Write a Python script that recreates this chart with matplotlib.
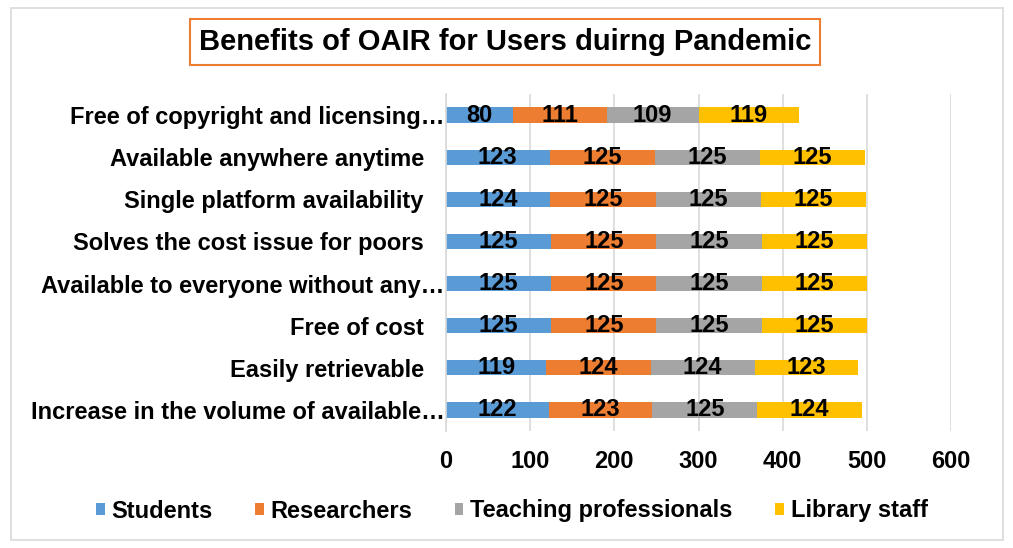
import numpy as np
import matplotlib.pyplot as plt
from matplotlib.patches import Rectangle
from matplotlib.transforms import ScaledTranslation
from matplotlib import font_manager

plt.rcParams['font.family'] = ['Liberation Sans', 'DejaVu Sans']
plt.rcParams['font.weight'] = 'bold'

# Données (de bas en haut)
categories = [
    "Increase in the volume of available…",
    "Easily retrievable",
    "Free of cost",
    "Available to everyone without any…",
    "Solves the cost issue for poors",
    "Single platform availability",
    "Available anywhere anytime",
    "Free of copyright and licensing…",
]
students = [122, 119, 125, 125, 125, 124, 123, 80]
researchers = [123, 124, 125, 125, 125, 125, 125, 111]
teaching = [125, 124, 125, 125, 125, 125, 125, 109]
library = [124, 123, 125, 125, 125, 125, 125, 119]

series = [
    ("Students", students, "#5B9BD5"),
    ("Researchers", researchers, "#ED7D31"),
    ("Teaching professionals", teaching, "#A5A5A5"),
    ("Library staff", library, "#FFC000"),
]

# police étroite pour le titre si disponible
installed = {f.name for f in font_manager.fontManager.ttflist}
if "Liberation Sans Narrow" in installed:
    title_font, title_size = "Liberation Sans Narrow", 26
else:
    title_font, title_size = "Liberation Sans", 21

fig = plt.figure(figsize=(10.13, 5.48), dpi=100)
ax = fig.add_axes([446 / 1013, 1 - 431 / 548, (951 - 446) / 1013, (431 - 94) / 548])

y = np.arange(len(categories))
left = np.zeros(len(categories))
for name, vals, color in series:
    bars = ax.barh(y, vals, left=left, height=0.36, color=color, label=name, zorder=2)
    ax.bar_label(bars, labels=[str(v) for v in vals], label_type="center",
                 fontsize=17, fontweight="bold", color="black")
    left += np.array(vals)

ax.set_xlim(0, 600)
ax.set_ylim(-0.5, len(categories) - 0.5)
ax.set_xticks(range(0, 601, 100))
ax.set_yticks(y)
ax.set_yticklabels(categories, fontsize=17, fontweight="bold")
ax.tick_params(axis="x", labelsize=17, length=0, pad=14)
ax.tick_params(axis="y", length=0, pad=16)
# les libellés tronqués vont jusqu'à l'axe
for lab in ax.get_yticklabels():
    if lab.get_text().endswith("…"):
        lab.set_transform(lab.get_transform() + ScaledTranslation(0.21, 0, fig.dpi_scale_trans))
ax.grid(axis="x", color="#D9D9D9", linewidth=1.2, zorder=0)
for s in ["top", "right", "bottom"]:
    ax.spines[s].set_visible(False)
ax.spines["left"].set_color("#D9D9D9")
ax.spines["left"].set_linewidth(1.2)

fig.text(505 / 1013, 1 - 42 / 548, "Benefits of OAIR for Users duirng Pandemic",
         ha="center", va="center", fontsize=title_size, fontweight="bold", family=title_font,
         bbox=dict(boxstyle="square,pad=0.3", fc="white", ec="#ED7D31", lw=1.5))

fig.legend(loc="center", bbox_to_anchor=(512 / 1013, 1 - 511 / 548), ncol=4, frameon=False,
           fontsize=17, handlelength=0.35, handleheight=0.35, columnspacing=1.8,
           handletextpad=0.3)

fig.patches.append(Rectangle((11 / 1013, 1 - 540 / 548), (1003 - 11) / 1013, (540 - 8) / 548,
                             transform=fig.transFigure, fill=False, ec="#D9D9D9", lw=1.2))

fig.savefig("out.png", dpi=100)
